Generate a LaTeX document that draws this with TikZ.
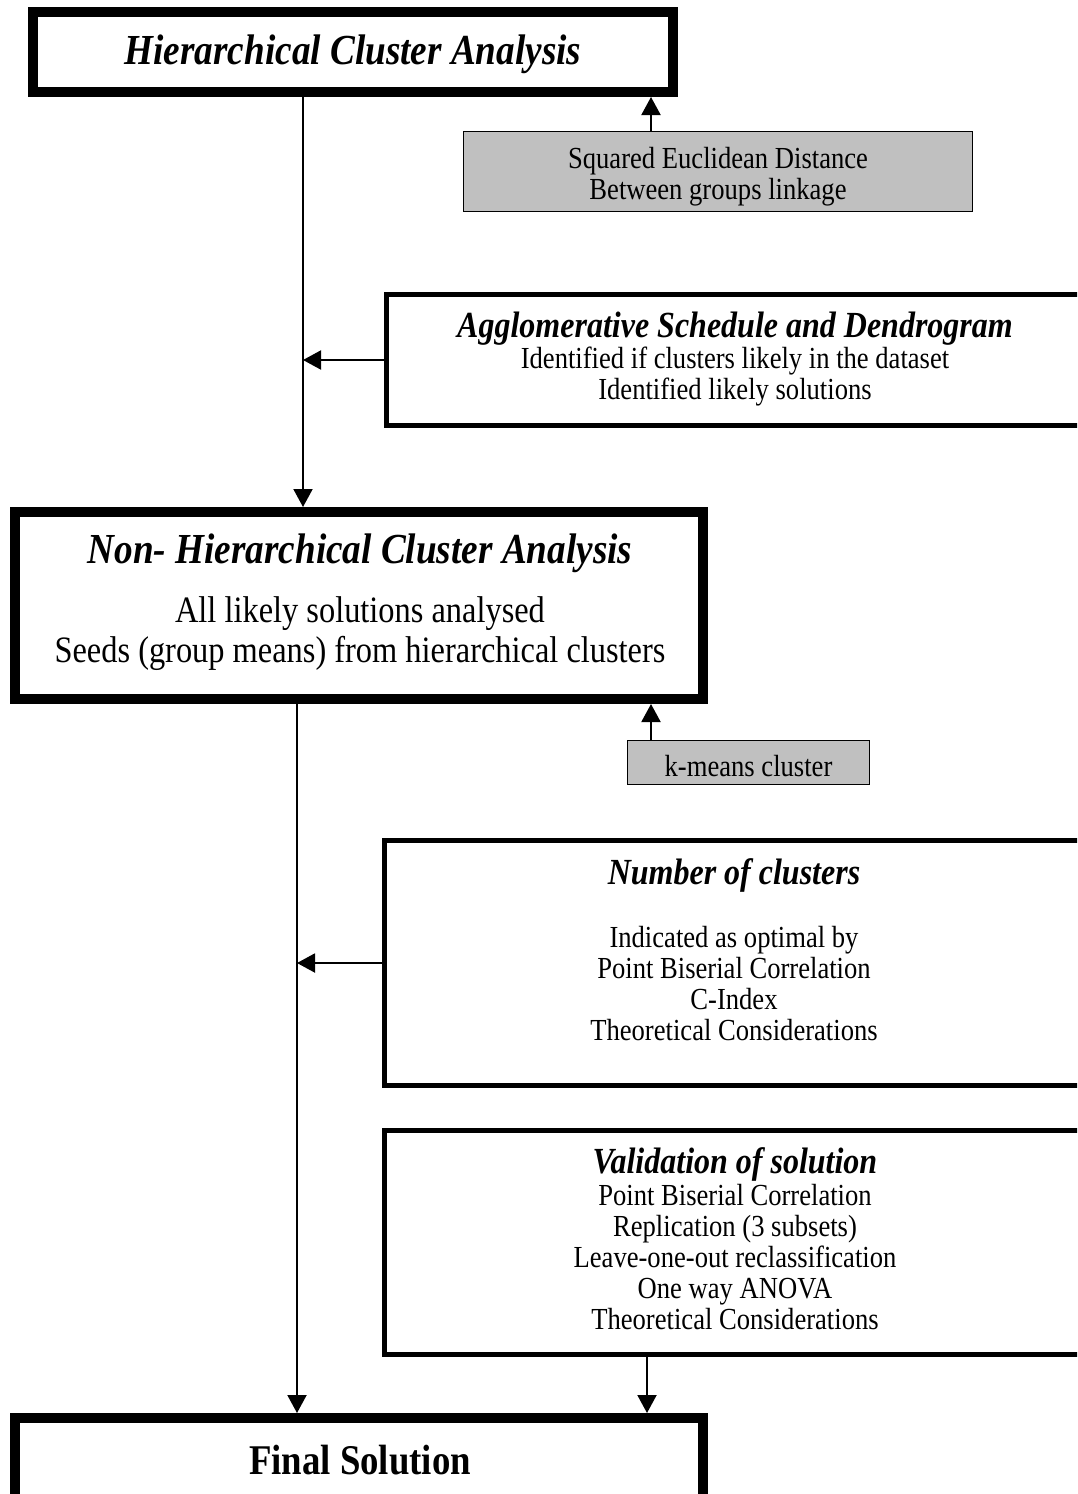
\documentclass[tikz,border=0pt]{standalone}
\usepackage{fontspec}
\usepackage{graphicx}
\setmainfont{Liberation Serif}
\usetikzlibrary{arrows.meta}
\definecolor{boxgrey}{RGB}{192,192,192}
\newcommand{\fbody}{\fontsize{13.3}{13.5}\selectfont}
\newcommand{\fbodybig}{\fontsize{16.2}{17.4}\selectfont}
\newcommand{\ftitle}{\fontsize{18.6}{20}\selectfont\bfseries\itshape}
\newcommand{\fsub}{\fontsize{16}{17}\selectfont\bfseries\itshape}
\newcommand{\ffinal}{\fontsize{18.4}{20}\selectfont\bfseries}
\newcommand{\vst}[1]{\scalebox{1}[1.15]{\begin{tabular}{@{}c@{}}#1\end{tabular}}}
\begin{document}
\begin{tikzpicture}[x=0.5pt,y=-0.5pt,
  thickbox/.style={draw, line width=5pt, inner sep=0pt, fill=white},
  midbox/.style={draw, line width=2.5pt, inner sep=0pt, fill=white},
  greybox/.style={draw, fill=boxgrey, line width=0.5pt, inner sep=0pt},
  txt/.style={inner sep=0pt, align=center},
  conn/.style={line width=1pt, -{Triangle[length=9pt,width=9.5pt]}}]
\useasboundingbox (0,0) rectangle (1077,1494);
\clip (0,0) rectangle (1077,1494);
\fill[white] (0,0) rectangle (1077,1494);

% boxes
\node[thickbox, minimum width=320pt, minimum height=40pt] (hca) at (353,52) {};
\node[txt, font=\ftitle] (hcat) at (353,55) {\vst{Hierarchical Cluster Analysis}};

\node[greybox, minimum width=254.5pt, minimum height=40pt] (sed) at (718,171.5) {};
\node[txt, font=\fbody] (sedt) at (718,177.5) {\vst{Squared Euclidean Distance\\Between groups linkage}};

\node[midbox, minimum width=350.5pt, minimum height=65.5pt] (agg) at (737,360) {};
\node[txt, font=\fsub] (aggt) at (735,330) {\vst{Agglomerative Schedule and Dendrogram}};
\node[txt, font=\fbody] (aggb) at (735,377.5) {\vst{Identified if clusters likely in the dataset\\Identified likely solutions}};

\node[thickbox, minimum width=344pt, minimum height=93.5pt] (nhca) at (359,605.5) {};
\node[txt, font=\ftitle] (nhcat) at (360,554) {\vst{Non- Hierarchical Cluster Analysis}};
\node[txt, font=\fbodybig] (nhcab) at (360,634) {\vst{All likely solutions analysed\\Seeds (group means) from hierarchical clusters}};

\node[greybox, minimum width=121pt, minimum height=22pt] (km) at (748.5,762.5) {};
\node[txt, font=\fbody] (kmt) at (748.5,770.5) {\vst{k-means cluster}};

\node[midbox, minimum width=351.5pt, minimum height=122.5pt] (noc) at (736,963) {};
\node[txt, font=\fsub] (noct) at (734,877) {\vst{Number of clusters}};
\node[txt, font=\fbody] (nocb) at (734,987.5) {\vst{Indicated as optimal by\\Point Biserial Correlation\\C-Index\\Theoretical Considerations}};

\node[midbox, minimum width=351.5pt, minimum height=112pt] (val) at (736,1242.5) {};
\node[txt, font=\fsub] (valt) at (735,1166) {\vst{Validation of solution}};
\node[txt, font=\fbody] (valb) at (735,1261) {\vst{Point Biserial Correlation\\Replication (3 subsets)\\Leave-one-out reclassification\\One way ANOVA\\Theoretical Considerations}};

\node[thickbox, minimum width=344pt, minimum height=53.5pt] (fin) at (359,1471.5) {};
\node[txt, font=\ffinal] (fint) at (360,1465) {\vst{Final Solution}};

% connector x positions
\coordinate (xa) at (303,0);
\coordinate (xb) at (297,0);
\coordinate (xg) at (651,0);
\coordinate (xv) at (647,0);

\draw[conn] (hca.south -| xa) -- (nhca.north -| xa);
\draw[conn] (sed.north -| xg) -- (hca.south -| xg);
\draw[conn] (agg.west) -- (agg.west -| xa);
\draw[conn] (km.north -| xg) -- (nhca.south -| xg);
\draw[conn] (noc.west) -- (noc.west -| xb);
\draw[conn] (nhca.south -| xb) -- (fin.north -| xb);
\draw[conn] (val.south -| xv) -- (fin.north -| xv);
\end{tikzpicture}
\end{document}
